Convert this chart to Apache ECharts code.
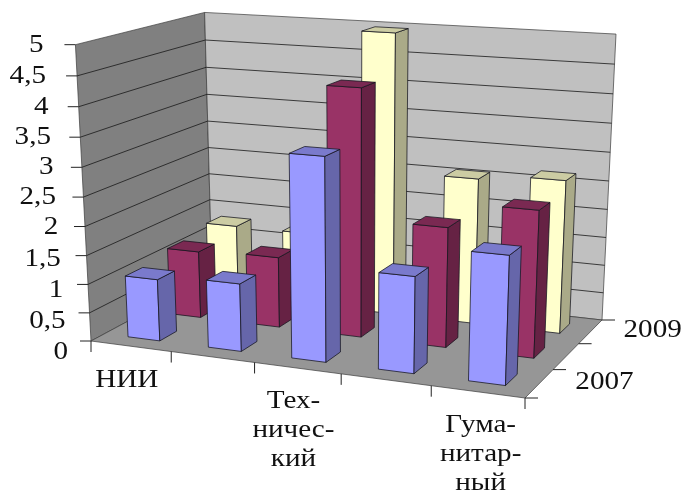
<!DOCTYPE html>
<html><head><meta charset="utf-8">
<style>html,body{margin:0;background:#fff}#c{width:684px;height:491px;filter:blur(0.5px)}</style>
<script src="https://cdn.jsdelivr.net/npm/echarts@6/dist/echarts.min.js"></script>
</head><body><div id="c"></div>
<script>
const categories = ['НИИ', '', 'Тех-\nничес-\nкий', '', 'Гума-\nнитар-\nный'];
const years = ['2007', '2008', '2009'];
const yearLabels = ['2007', '', '2009'];
const values2007 = [1.08, 1.17, 3.42, 1.62, 2.12];
const values2008 = [1.2, 1.25, 4.27, 2.07, 2.5];
const values2009 = [1.32, 1.32, 4.97, 2.58, 2.68];
const valueTicks = [0, 0.5, 1, 1.5, 2, 2.5, 3, 3.5, 4, 4.5, 5];

const W = 684, H = 491, FONT = '"Liberation Serif","Times New Roman",serif';
const FL = [91, 341], FR = [525, 398], BR = [602, 320], BL = [212, 276];
const TFL = [75, 43], TBL = [205, 14], TBR = [616, 34];
const BAR = 0.4, TEXT_STRETCH = 1.12;
const catLabelShift = [-4, 0, -4, 0, 3], yearLabelShift = [0, 0, -3];
const palette = {
  '2007': {front: '#9999ff', side: '#6666aa', top: '#7a7acc'},
  '2008': {front: '#993366', side: '#662244', top: '#7a2952'},
  '2009': {front: '#ffffcc', side: '#aaaa88', top: '#ccccA3'}
};

// perspective matrix of the box: floor homography + solved vertical column
function floorHomography() {
  const [x0,y0]=FL,[x1,y1]=FR,[x2,y2]=BR,[x3,y3]=BL;
  const sx=x0-x1+x2-x3, sy=y0-y1+y2-y3, dx1=x1-x2, dx2=x3-x2, dy1=y1-y2, dy2=y3-y2;
  const det=dx1*dy2-dx2*dy1;
  const g=(sx*dy2-dx2*sy)/det, h=(dx1*sy-sx*dy1)/det;
  return {a:x1-x0+g*x1,b:x3-x0+h*x3,c:x0,d:y1-y0+g*y1,e:y3-y0+h*y3,f:y0,g,h};
}
const M = floorHomography();
function solveVertical() {
  const pts=[[0,0,TFL],[0,1,TBL],[1,1,TBR]];
  const N=[[0,0,0,0],[0,0,0,0],[0,0,0,0]];
  const add=(r,b)=>{for(let i=0;i<3;i++){for(let j=0;j<3;j++)N[i][j]+=r[i]*r[j];N[i][3]+=r[i]*b;}};
  pts.forEach(([u,v,t])=>{
    const X=M.a*u+M.b*v+M.c,Y=M.d*u+M.e*v+M.f,Z=M.g*u+M.h*v+1;
    add([1,0,-t[0]],t[0]*Z-X); add([0,1,-t[1]],t[1]*Z-Y);
  });
  for(let i=0;i<3;i++){
    for(let k=i+1;k<3;k++){const m=N[k][i]/N[i][i];for(let j=i;j<4;j++)N[k][j]-=m*N[i][j];}
  }
  const s=[0,0,0];
  for(let i=2;i>=0;i--){let r=N[i][3];for(let j=i+1;j<3;j++)r-=N[i][j]*s[j];s[i]=r/N[i][i];}
  return s;
}
const V = solveVertical();
function P(u,v,w){
  const Z=M.g*u+M.h*v+1+V[2]*w;
  return [(M.a*u+M.b*v+M.c+V[0]*w)/Z,(M.d*u+M.e*v+M.f+V[1]*w)/Z];
}
const poly=(pts,fill,stroke)=>({type:'polygon',shape:{points:pts},style:{fill,stroke:stroke||'rgba(20,20,30,.75)',lineWidth:1}});
const seg=(a,b,c)=>({type:'line',shape:{x1:a[0],y1:a[1],x2:b[0],y2:b[1]},style:{stroke:c||'rgba(25,25,25,.8)',lineWidth:1}});
const text=(s,x,y,align,vAlign)=>({type:'text',x,y,scaleX:TEXT_STRETCH,style:{text:s,font:'26px '+FONT,fill:'#111',align,verticalAlign:vAlign||'middle',lineHeight:29}});

function renderFrame(params, api){
  if(params.dataIndex!==0) return;
  const w0=p=>(H-p[1])/H;
  const kids=[];
  kids.push(poly([P(0,0,0),P(0,1,0),P(0,1,1),P(0,0,1)],'#808080','rgba(60,60,60,.7)'));
  kids.push(poly([P(0,1,0),P(1,1,0),P(1,1,1),P(0,1,1)],'#c0c0c0','rgba(60,60,60,.7)'));
  kids.push(poly([P(0,0,0),P(1,0,0),P(1,1,0),P(0,1,0)],'#969696','rgba(60,60,60,.7)'));
  valueTicks.forEach(t=>{
    const w=w0(api.coord([0,t]));
    if(t>0&&t<5){kids.push(seg(P(0,0,w),P(0,1,w)));kids.push(seg(P(0,1,w),P(1,1,w)));}
    const a=P(0,0,w);
    kids.push(seg([a[0]-11,a[1]],a,'#222'));
    kids.push(text(String(t).replace('.',','),a[0]-23-9*t/5,a[1]+Math.max(0,2.2-t)*5,'right'));
  });
  for(let i=0;i<=categories.length;i++){
    const a=P(i/categories.length,0,0);
    kids.push(seg(a,[a[0],a[1]+11],'#222'));
  }
  categories.forEach((c,i)=>{
    if(!c) return;
    const a=P((i+.5)/categories.length,0,0);
    kids.push(text(c,a[0]+catLabelShift[i],a[1]+19,'center','top'));
  });
  for(let i=0;i<=years.length;i++){
    const a=P(1,i/years.length,0);
    kids.push(seg(a,[a[0]+13,a[1]],'#222'));
  }
  yearLabels.forEach((c,i)=>{
    if(!c) return;
    const a=P(1,(i+.5)/years.length,0);
    kids.push(text(c,a[0]+36+yearLabelShift[i],a[1]-1,'left'));
  });
  return {type:'group',children:kids};
}
function renderBars(yearIndex){
  const c=palette[years[yearIndex]];
  return function(params,api){
    const p=api.coord([api.value(0),api.value(1)]);
    const band=api.size([1,0])[0]/W;
    const uc=p[0]/W, w=(H-p[1])/H;
    const u0=uc-band*BAR/2,u1=uc+band*BAR/2;
    const d=1/years.length, vc=(yearIndex+.5)*d, v0=vc-d*BAR/2, v1=vc+d*BAR/2;
    return {type:'group',children:[
      poly([P(u0,v0,0),P(u1,v0,0),P(u1,v0,w),P(u0,v0,w)],c.front),
      poly([P(u1,v0,0),P(u1,v1,0),P(u1,v1,w),P(u1,v0,w)],c.side),
      poly([P(u0,v0,w),P(u1,v0,w),P(u1,v1,w),P(u0,v1,w)],c.top)
    ]};
  };
}
const seriesValues=[values2007,values2008,values2009];
const series=[{type:'custom',name:'frame',silent:true,z:1,clip:false,renderItem:renderFrame,data:[[0,0]]}];
[2,1,0].forEach(i=>series.push({
  type:'custom',name:years[i],z:2+(2-i),clip:false,silent:true,renderItem:renderBars(i),
  encode:{x:0,y:1},data:seriesValues[i].map((v,k)=>[k,v])
}));
const chart=echarts.init(document.getElementById('c'),null,{renderer:'canvas',width:W,height:H});
chart.setOption({
  animation:false,backgroundColor:'#fff',
  grid:{left:0,right:0,top:0,bottom:0},
  xAxis:{type:'category',data:categories.map((c,i)=>i),show:false},
  yAxis:{type:'value',min:0,max:5,interval:0.5,show:false},
  series
});
</script></body></html>
